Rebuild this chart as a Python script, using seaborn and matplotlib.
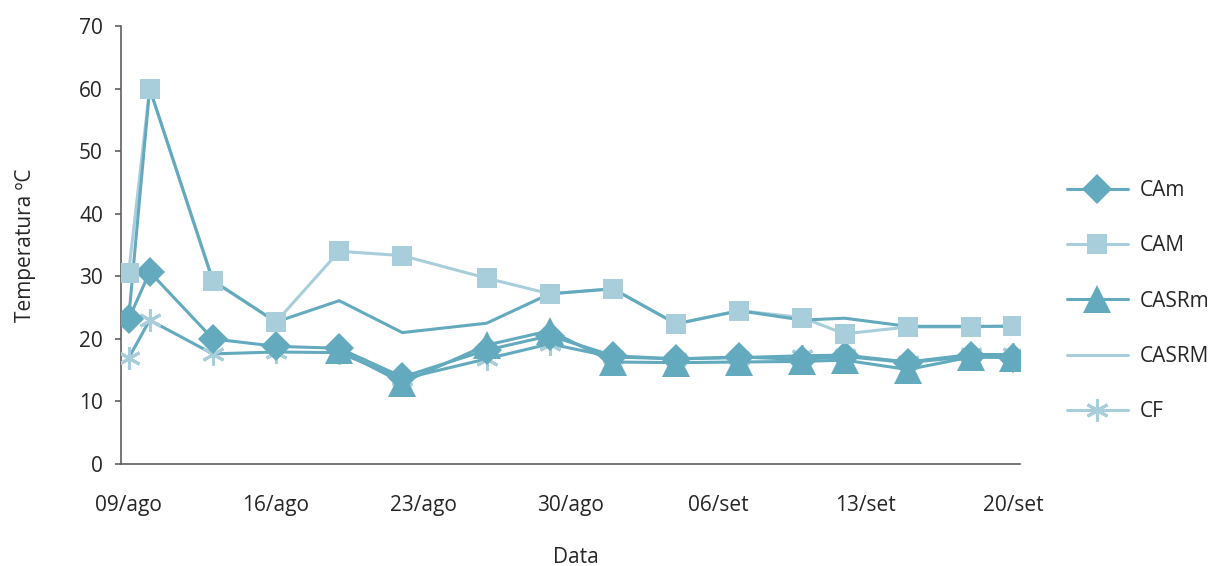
import numpy as np
import pandas as pd
import matplotlib
matplotlib.use("Agg")
import matplotlib.pyplot as plt
import matplotlib.dates as mdates
from matplotlib.lines import Line2D
import seaborn as sns

# Measurement dates (day/month) and temperature series (°C)
dates = ["09/08", "10/08", "13/08", "16/08", "19/08", "22/08", "26/08", "29/08",
         "01/09", "04/09", "07/09", "10/09", "12/09", "15/09", "18/09", "20/09"]
cam_min = [23.1, 30.7, 20.0, 18.8, 18.5, 13.9, 18.2, 20.5,
           17.3, 16.8, 17.1, 16.7, 17.2, 16.2, 17.2, 17.0]
cam_max = [30.5, 60.0, 29.3, 22.7, 34.0, 33.3, 29.7, 27.2,
           28.0, 22.4, 24.5, 23.4, 20.8, 21.9, 21.9, 22.1]
casr_min = [np.nan, np.nan, np.nan, np.nan, 18.2, 13.0, 19.0, 21.3,
            16.3, 16.2, 16.3, 16.4, 16.6, 15.1, 17.1, 17.0]
casr_max = [23.1, 60.0, 29.3, 22.7, 26.1, 21.0, 22.5, 27.2,
            28.0, 22.4, 24.5, 23.0, 23.3, 22.0, 22.0, 22.0]
cf = [16.9, 23.0, 17.6, 17.9, 17.8, 13.6, 16.8, 19.2,
      17.1, 16.8, 17.0, 17.3, 17.4, 16.3, 17.5, 17.5]

series_names = ["CAm", "CAM", "CASRm", "CASRM", "CF"]
tick_dates = ["09/08", "16/08", "23/08", "30/08", "06/09", "13/09", "20/09"]
tick_labels = ["09/ago", "16/ago", "23/ago", "30/ago", "06/set", "13/set", "20/set"]

DARK = "#63aabe"
LIGHT = "#a9cedb"
TEXT = "#262626"
AXIS = "#5f5f5f"

sns.set_theme(style="white")
plt.rcParams["font.family"] = ["Open Sans", "DejaVu Sans"]
plt.rcParams["text.color"] = TEXT
plt.rcParams["axes.labelcolor"] = TEXT
plt.rcParams["xtick.color"] = TEXT
plt.rcParams["ytick.color"] = TEXT

x = pd.to_datetime(pd.Series(dates), format="%d/%m")
df = pd.DataFrame({"date": x, "CAm": cam_min, "CAM": cam_max,
                   "CASRm": casr_min, "CASRM": casr_max, "CF": cf})

fig = plt.figure(figsize=(12.14, 5.66), dpi=100)
ax = fig.add_axes([0.0997, 0.1802, 0.7405, 0.7739])

LW = 2.2
DIAMOND = 15.5
STAR = 16.5
# CAM connecting line (beneath the other lines)
sns.lineplot(data=df, x="date", y="CAM", ax=ax, color=LIGHT, lw=LW, zorder=2)
# CF: asterisk markers
sns.lineplot(data=df, x="date", y="CF", ax=ax, color=DARK, lw=LW, zorder=3,
             marker=(6, 2, 0), markersize=STAR, markeredgecolor=LIGHT,
             markeredgewidth=2.2)
# CASRm: triangles
sns.lineplot(data=df.dropna(subset=["CASRm"]), x="date", y="CASRm", ax=ax,
             color=DARK, lw=LW, zorder=4, marker="^", markersize=20,
             markeredgewidth=0)
# CAm: diamonds
sns.lineplot(data=df, x="date", y="CAm", ax=ax, color=DARK, lw=LW, zorder=4.5,
             marker="D", markersize=DIAMOND, markeredgewidth=0)
# CASRM: plain line
sns.lineplot(data=df, x="date", y="CASRM", ax=ax, color=DARK, lw=LW, zorder=5)
# CAM square markers on top
sns.scatterplot(data=df, x="date", y="CAM", ax=ax, color=LIGHT, marker="s",
                s=14 ** 2, linewidth=0, zorder=6)

# Axes limits and ticks
x0 = mdates.date2num(x.iloc[0])
x1 = mdates.date2num(x.iloc[-1])
ax.set_xlim(x0 - 0.36, x1 + 0.33)
ax.set_ylim(0, 70)
ax.set_yticks(np.arange(0, 71, 10))
ax.set_xticks(pd.to_datetime(pd.Series(tick_dates), format="%d/%m"))
ax.set_xticklabels(tick_labels)

for side in ["top", "right"]:
    ax.spines[side].set_visible(False)
for side in ["left", "bottom"]:
    ax.spines[side].set_color(AXIS)
    ax.spines[side].set_linewidth(1.2)

ax.tick_params(axis="y", left=True, length=4.5, width=1.2, color=AXIS,
               pad=8.5, labelsize=15)
ax.tick_params(axis="x", bottom=False, length=0, pad=22, labelsize=15)

ax.set_ylabel("Temperatura ºC", fontsize=15)
ax.set_xlabel("Data", fontsize=15)
ax.yaxis.set_label_coords(-0.095, 0.5)
ax.xaxis.set_label_coords(0.506, -0.19)

# Legend
handles = [
    Line2D([], [], color=DARK, lw=LW, marker="D", markersize=DIAMOND, markeredgewidth=0),
    Line2D([], [], color=LIGHT, lw=LW, marker="s", markersize=14, markeredgewidth=0),
    Line2D([], [], color=DARK, lw=LW, marker="^", markersize=20, markeredgewidth=0),
    Line2D([], [], color=LIGHT, lw=LW),
    Line2D([], [], color=LIGHT, lw=LW, marker=(6, 2, 0), markersize=STAR,
           markeredgecolor=LIGHT, markeredgewidth=2.2),
]
ax.legend(handles, series_names, loc="center left",
          bbox_to_anchor=(0.879, 0.468), bbox_transform=fig.transFigure,
          frameon=False, fontsize=15, handlelength=2.9, handletextpad=0.6,
          labelspacing=1.65, borderpad=0, borderaxespad=0)

fig.savefig("out.png", dpi=100)
